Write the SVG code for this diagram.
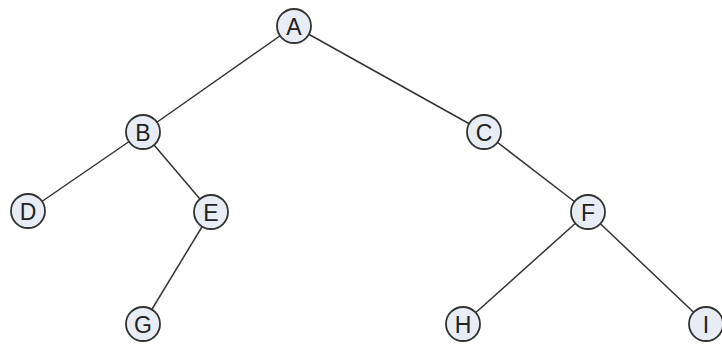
<svg xmlns="http://www.w3.org/2000/svg" width="722" height="347" viewBox="0 0 722 347">
<style>
.bg{fill:#ffffff}
.edge{stroke:#333333;stroke-width:1.5;fill:none}
.node circle{fill:#e8ecf5;stroke:#333333;stroke-width:1.8}
.node text{font-family:"Liberation Sans",Arial,sans-serif;font-size:23px;fill:#222222;text-anchor:middle;dominant-baseline:central}
</style>
<rect class="bg" x="0" y="0" width="722" height="347"/>
<g id="connectors">
<line class="edge" x1="294" y1="26" x2="143" y2="132"/>
<line class="edge" x1="294" y1="26" x2="484" y2="132"/>
<line class="edge" x1="143" y1="132" x2="28" y2="211"/>
<line class="edge" x1="143" y1="132" x2="211" y2="212"/>
<line class="edge" x1="211" y1="212" x2="143" y2="324"/>
<line class="edge" x1="484" y1="132" x2="588" y2="212"/>
<line class="edge" x1="588" y1="212" x2="463" y2="324"/>
<line class="edge" x1="588" y1="212" x2="706" y2="324"/>
</g>
<g id="node-A" class="node"><circle cx="294" cy="26" r="17"/><text x="294" y="27">A</text></g>
<g id="node-B" class="node"><circle cx="143" cy="132" r="17"/><text x="143" y="133">B</text></g>
<g id="node-C" class="node"><circle cx="484" cy="132" r="17"/><text x="484" y="133">C</text></g>
<g id="node-D" class="node"><circle cx="28" cy="211" r="17"/><text x="28" y="212">D</text></g>
<g id="node-E" class="node"><circle cx="211" cy="212" r="17"/><text x="211" y="213">E</text></g>
<g id="node-F" class="node"><circle cx="588" cy="212" r="17"/><text x="588" y="213">F</text></g>
<g id="node-G" class="node"><circle cx="143" cy="324" r="17"/><text x="143" y="325">G</text></g>
<g id="node-H" class="node"><circle cx="463" cy="324" r="17"/><text x="463" y="325">H</text></g>
<g id="node-I" class="node"><circle cx="706" cy="324" r="17"/><text x="706" y="325">I</text></g>
</svg>
